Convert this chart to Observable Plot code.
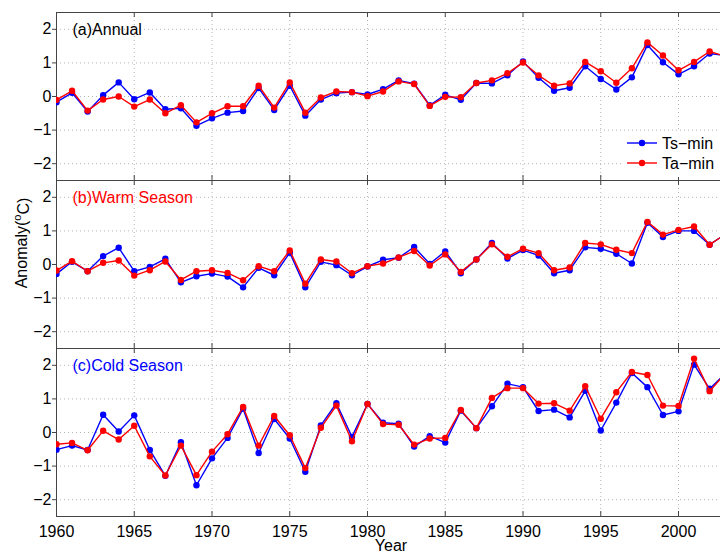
<!DOCTYPE html>
<html><head><meta charset="utf-8">
<script src="https://cdn.jsdelivr.net/npm/d3@7"></script>
<script src="https://cdn.jsdelivr.net/npm/@observablehq/plot@0.6"></script>
<style>
body{margin:0;background:#fff;}
#chart{position:relative;width:720px;height:555px;}
</style></head><body><div id="chart"></div>
<script>
const years = [1960,1961,1962,1963,1964,1965,1966,1967,1968,1969,1970,1971,1972,1973,1974,1975,1976,1977,1978,1979,1980,1981,1982,1983,1984,1985,1986,1987,1988,1989,1990,1991,1992,1993,1994,1995,1996,1997,1998,1999,2000,2001,2002,2003];

const annualTs = [-0.17,0.11,-0.45,0.04,0.42,-0.08,0.12,-0.38,-0.35,-0.87,-0.65,-0.48,-0.43,0.25,-0.40,0.32,-0.57,-0.09,0.10,0.13,0.06,0.22,0.48,0.38,-0.26,0.05,-0.10,0.40,0.39,0.63,1.04,0.56,0.17,0.26,0.90,0.52,0.21,0.57,1.53,1.02,0.66,0.90,1.28,1.22];
const annualTa = [-0.10,0.17,-0.42,-0.09,0.00,-0.30,-0.09,-0.50,-0.26,-0.77,-0.50,-0.29,-0.29,0.32,-0.33,0.42,-0.48,-0.03,0.15,0.13,0.01,0.15,0.45,0.37,-0.28,-0.01,-0.02,0.40,0.48,0.69,1.01,0.63,0.32,0.39,1.03,0.75,0.41,0.84,1.61,1.22,0.78,1.03,1.34,1.20];

const warmTs = [-0.28,0.08,-0.20,0.25,0.50,-0.20,-0.07,0.17,-0.53,-0.35,-0.27,-0.36,-0.68,-0.10,-0.32,0.35,-0.68,0.08,-0.02,-0.32,-0.06,0.14,0.20,0.52,0.02,0.39,-0.26,0.15,0.64,0.18,0.43,0.27,-0.26,-0.17,0.51,0.47,0.32,0.03,1.24,0.82,1.00,1.00,0.59,0.90];
const warmTa = [-0.18,0.10,-0.20,0.05,0.12,-0.33,-0.17,0.09,-0.46,-0.20,-0.17,-0.25,-0.47,-0.05,-0.20,0.42,-0.57,0.15,0.09,-0.26,-0.05,0.03,0.21,0.40,-0.03,0.30,-0.22,0.15,0.60,0.23,0.47,0.34,-0.17,-0.09,0.64,0.60,0.44,0.34,1.27,0.89,1.03,1.13,0.59,0.90];

const coldTs = [-0.51,-0.39,-0.52,0.53,0.03,0.51,-0.52,-1.29,-0.29,-1.57,-0.77,-0.16,0.71,-0.61,0.40,-0.18,-1.17,0.21,0.87,-0.13,0.85,0.29,0.26,-0.42,-0.11,-0.30,0.65,0.13,0.78,1.45,1.35,0.64,0.68,0.45,1.24,0.06,0.89,1.77,1.35,0.52,0.63,2.02,1.30,1.75];
const coldTa = [-0.35,-0.31,-0.53,0.05,-0.21,0.20,-0.71,-1.28,-0.39,-1.27,-0.57,-0.05,0.76,-0.39,0.49,-0.08,-1.06,0.14,0.80,-0.26,0.85,0.25,0.23,-0.36,-0.18,-0.16,0.67,0.13,1.03,1.32,1.32,0.86,0.87,0.65,1.38,0.41,1.20,1.80,1.71,0.80,0.79,2.20,1.23,1.75];

const panels = ["(a)Annual", "(b)Warm Season", "(c)Cold Season"];
const panelColors = ["black", "red", "blue"];
const seriesNames = ["Ts\u2212min", "Ta\u2212min"];
const seriesColors = ["blue", "red"];
const xTicks = [1960, 1965, 1970, 1975, 1980, 1985, 1990, 1995, 2000];
const yTicks = [-2, -1, 0, 1, 2];
const xDomain = [1960, 2002.7];
const yDomain = [-2.5, 2.5];

const sets = [[annualTs, annualTa], [warmTs, warmTa], [coldTs, coldTa]];
const rows = [];
panels.forEach((p, i) => seriesNames.forEach((s, j) => years.forEach((yr, k) =>
  rows.push({panel: p, series: s, year: yr, value: sets[i][j][k]}))));

const frameColor = "#444";
const grid = {stroke: "#b4b4b4", strokeDasharray: "1,3", strokeWidth: 1};
const tickLen = 0.15;

const seriesMarks = [];
seriesNames.forEach((s, j) => {
  const d = rows.filter(r => r.series === s);
  seriesMarks.push(Plot.lineY(d, {x: "year", y: "value", fy: "panel", z: "panel", stroke: seriesColors[j], strokeWidth: 1.4, clip: true}));
  seriesMarks.push(Plot.dot(d, {x: "year", y: "value", fy: "panel", fill: seriesColors[j], r: 3.2, stroke: "none", clip: true}));
});

const plot = Plot.plot({
  width: 720,
  height: 555,
  marginLeft: 56,
  marginRight: 0,
  marginTop: 12,
  marginBottom: 39,
  style: {fontSize: "16px", fontFamily: "'Liberation Sans', Arial, Helvetica, sans-serif", background: "white", color: "black"},
  x: {domain: xDomain, label: null},
  y: {domain: yDomain, label: null},
  fy: {domain: panels, padding: 0, axis: null, label: null},
  marks: [
    Plot.ruleY(yTicks, {y: d => d, ...grid}),
    Plot.ruleX(xTicks, {x: d => d, ...grid}),
    Plot.ruleX(xTicks, {x: d => d, y1: yDomain[1], y2: yDomain[1] - tickLen, stroke: frameColor}),
    Plot.ruleX(xTicks, {x: d => d, y1: yDomain[0], y2: yDomain[0] + tickLen, stroke: frameColor}),
    Plot.ruleY(yDomain, {y: d => d, stroke: frameColor}),
    Plot.ruleX([xDomain[0]], {x: d => d, stroke: frameColor}),
    ...seriesMarks,
    ...panels.map((p, i) => Plot.text([p], {fy: d => d, text: d => d, frameAnchor: "top-left", lineAnchor: "middle", dx: 16, dy: 17, fill: panelColors[i], fontSize: 16, textAnchor: "start"})),
    Plot.axisY(yTicks, {tickSize: 4, tickPadding: 1, stroke: frameColor, label: null}),
    Plot.axisX(xTicks, {tickSize: 0, tickPadding: 9, tickFormat: "d", label: null})
  ]
});

document.getElementById("chart").appendChild(plot);

const svg = d3.select(plot);
const ff = "'Liberation Sans', Arial, Helvetica, sans-serif";

// Y label
const yl = svg.append("text")
  .attr("transform", "translate(21,243) rotate(-90)")
  .attr("text-anchor", "middle")
  .attr("dy", "0.35em")
  .attr("font-family", ff).attr("font-size", 16).attr("fill", "black");
yl.append("tspan").text("Anomaly(");
yl.append("tspan").attr("font-size", 11).attr("dy", "-0.55em").text("o");
yl.append("tspan").attr("dy", "0.55em").text("C)");

// X label
svg.append("text").attr("x", 391).attr("y", 551).attr("text-anchor", "middle")
  .attr("font-family", ff).attr("font-size", 16).attr("fill", "black").text("Year");

// Legend
const lg = svg.append("g").attr("transform", "translate(622,132)");
lg.append("rect").attr("width", 98).attr("height", 45).attr("fill", "white");
seriesNames.forEach((s, j) => {
  const yy = 11 + j * 20;
  lg.append("line").attr("x1", 5).attr("x2", 35).attr("y1", yy).attr("y2", yy)
    .attr("stroke", seriesColors[j]).attr("stroke-width", 1.4);
  lg.append("circle").attr("cx", 20).attr("cy", yy).attr("r", 3.2).attr("fill", seriesColors[j]);
  lg.append("text").attr("x", 40).attr("y", yy).attr("dy", "0.35em").attr("text-anchor", "start")
    .attr("font-family", ff).attr("font-size", 16).attr("fill", "black").text(s);
});
</script>
</body></html>
